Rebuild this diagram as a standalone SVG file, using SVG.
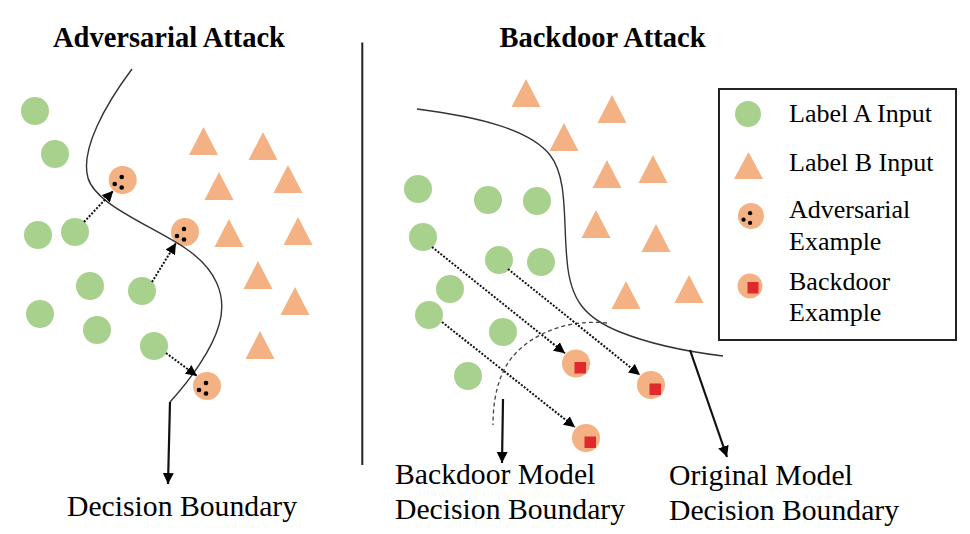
<svg xmlns="http://www.w3.org/2000/svg" width="970" height="534" viewBox="0 0 970 534">
<defs>
<style>
.ga{fill:#a9d18e}
.tb{fill:#f4b183}
.ad{fill:#f4b183}
.dot{fill:#000}
.sq{fill:#e0292d}
.curve{fill:none;stroke:#333;stroke-width:1.4}
.dash{fill:none;stroke:#444;stroke-width:1.3;stroke-dasharray:4 3}
.dotted{fill:none;stroke:#111;stroke-width:2;stroke-dasharray:2 1.6;marker-end:url(#ah)}
.solid{fill:none;stroke:#111;stroke-width:2.2;marker-end:url(#ah)}
.title{font-family:"Liberation Serif","Times New Roman",serif;font-weight:bold;font-size:28.5px;fill:#000}
.lbl{font-family:"Liberation Serif","Times New Roman",serif;font-size:29.7px;fill:#000}
.leg{font-family:"Liberation Serif","Times New Roman",serif;font-size:26px;fill:#000}
</style>
<marker id="ah" markerUnits="userSpaceOnUse" markerWidth="12" markerHeight="12" viewBox="0 0 12 12" refX="11" refY="5.5" orient="auto">
<path d="M0,0 L11,5.5 L0,11 z" fill="#000"/>
</marker>
<circle id="gc" r="14" class="ga"/>
<polygon id="tri" points="0,0 -14.5,28 14.5,28" class="tb"/>
<g id="adv">
<circle r="14" class="ad"/>
<circle cx="-1" cy="-3" r="2.3" class="dot"/>
<circle cx="-8" cy="4" r="2.3" class="dot"/>
<circle cx="-1" cy="7.5" r="2.3" class="dot"/>
</g>
<g id="bd">
<circle r="14" class="ad"/>
<rect x="-1.5" y="-1.5" width="11.5" height="11.5" class="sq"/>
</g>
</defs>
<rect width="970" height="534" fill="#fff"/>

<text class="title" x="169" y="47" text-anchor="middle">Adversarial Attack</text>
<text class="title" x="602.5" y="47" text-anchor="middle">Backdoor Attack</text>

<line id="divider" x1="362.3" y1="42.5" x2="362.3" y2="465" stroke="#222" stroke-width="2"/>

<g id="left-green">
<use href="#gc" x="35" y="111"/>
<use href="#gc" x="55" y="154"/>
<use href="#gc" x="38" y="235"/>
<use href="#gc" x="75" y="232"/>
<use href="#gc" x="90" y="286"/>
<use href="#gc" x="40" y="314"/>
<use href="#gc" x="97" y="330"/>
<use href="#gc" x="142" y="291"/>
<use href="#gc" x="154" y="346"/>
</g>
<g id="left-tri">
<use href="#tri" x="203.5" y="127"/>
<use href="#tri" x="263" y="132"/>
<use href="#tri" x="219" y="172"/>
<use href="#tri" x="288" y="165"/>
<use href="#tri" x="229" y="219"/>
<use href="#tri" x="298" y="217"/>
<use href="#tri" x="258" y="261"/>
<use href="#tri" x="295" y="287"/>
<use href="#tri" x="260" y="331"/>
</g>
<g id="left-adv">
<use href="#adv" x="122.7" y="180"/>
<use href="#adv" x="185" y="232"/>
<use href="#adv" x="207" y="386"/>
</g>

<g id="right-green">
<use href="#gc" x="418" y="189"/>
<use href="#gc" x="488" y="200"/>
<use href="#gc" x="537" y="201"/>
<use href="#gc" x="423" y="237"/>
<use href="#gc" x="499" y="260"/>
<use href="#gc" x="541" y="262"/>
<use href="#gc" x="450" y="289"/>
<use href="#gc" x="429" y="315"/>
<use href="#gc" x="503" y="332"/>
<use href="#gc" x="468" y="376"/>
</g>
<g id="right-tri">
<use href="#tri" x="526" y="79"/>
<use href="#tri" x="612" y="95"/>
<use href="#tri" x="564" y="123"/>
<use href="#tri" x="607" y="160"/>
<use href="#tri" x="653" y="155"/>
<use href="#tri" x="596" y="210"/>
<use href="#tri" x="656" y="224"/>
<use href="#tri" x="626" y="281"/>
<use href="#tri" x="689" y="275"/>
</g>
<g id="right-bd">
<use href="#bd" x="576" y="363.5"/>
<use href="#bd" x="651" y="385"/>
<use href="#bd" x="586" y="438"/>
</g>

<g id="connectors">
<path class="curve" d="M132,69 C105,105 80,150 88,178 C96,205 150,225 185,248 C215,268 228,295 219,325 C212,350 190,380 170,402"/>
<line class="solid" x1="170" y1="402" x2="168" y2="484"/>
<line class="dotted" x1="84" y1="222" x2="113.3" y2="190.7"/>
<line class="dotted" x1="152" y1="282" x2="176" y2="243"/>
<line class="dotted" x1="166" y1="353" x2="197" y2="376"/>

<path class="curve" d="M417,109 C480,117 530,130 550,155 C568,178 563,220 567,260 C570,300 585,318 620,332 C650,344 690,352 723,356"/>
<line class="solid" x1="690" y1="350" x2="727" y2="457"/>
<path class="dash" d="M607,323 C560,318 520,340 505,368 C496,385 493,405 493,425"/>
<line class="solid" x1="503" y1="399" x2="502" y2="463"/>
<line class="dotted" x1="432" y1="247" x2="565" y2="353.3"/>
<line class="dotted" x1="508" y1="269" x2="640" y2="375"/>
<line class="dotted" x1="442" y1="322" x2="575" y2="427.3"/>
</g>

<text class="lbl" x="67" y="516">Decision Boundary</text>
<text class="lbl" x="395" y="484">Backdoor Model</text>
<text class="lbl" x="395" y="519">Decision Boundary</text>
<text class="lbl" x="669" y="485">Original Model</text>
<text class="lbl" x="669" y="520">Decision Boundary</text>

<g id="legend">
<rect x="719" y="89" width="237" height="251" fill="#fff" stroke="#222" stroke-width="2"/>
<circle cx="748" cy="114" r="13" class="ga"/>
<polygon points="748.5,152 734,179 763,179" class="tb"/>
<g transform="translate(751,216) scale(0.93)">
<circle r="14" class="ad"/>
<circle cx="-1" cy="-3" r="2.3" class="dot"/>
<circle cx="-8" cy="4" r="2.3" class="dot"/>
<circle cx="-1" cy="7.5" r="2.3" class="dot"/>
</g>
<circle cx="750" cy="286" r="12.5" class="ad"/>
<rect x="747.5" y="282" width="11" height="11.5" class="sq"/>
<text class="leg" x="789" y="122">Label A Input</text>
<text class="leg" x="789" y="171">Label B Input</text>
<text class="leg" x="789" y="218">Adversarial</text>
<text class="leg" x="789" y="250">Example</text>
<text class="leg" x="789" y="290">Backdoor</text>
<text class="leg" x="789" y="321">Example</text>
</g>
</svg>
